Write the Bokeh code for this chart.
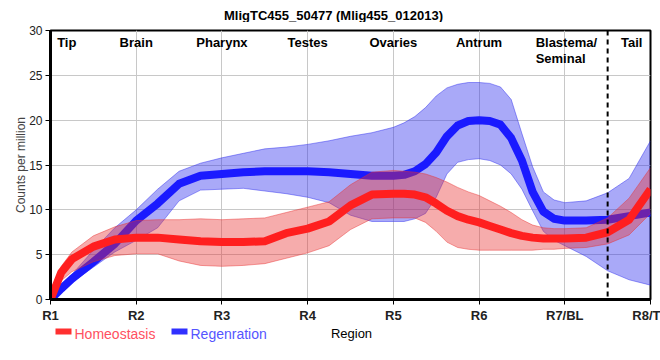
from bokeh.plotting import figure
from bokeh.layouts import column
from bokeh.models import FixedTicker, Label, Span, ColumnDataSource
from bokeh.core.properties import value
from bokeh.embed import file_html
from bokeh.resources import INLINE

# ---- data ----
xs = [1, 1.125, 1.25, 1.5, 1.75, 2, 2.25, 2.5, 2.75, 3, 3.25, 3.5, 3.75, 4, 4.25, 4.5, 4.75,
      5, 5.125, 5.25, 5.375, 5.5, 5.625, 5.75, 5.875, 6, 6.125, 6.25, 6.375, 6.5, 6.625, 6.75, 6.875, 7,
      7.25, 7.5, 7.75, 8]

homeo_mean = [0, 3.0, 4.5, 5.9, 6.7, 6.9, 6.9, 6.7, 6.5, 6.4, 6.4, 6.5, 7.4, 7.9, 8.7, 10.5, 11.7,
              11.8, 11.8, 11.7, 11.4, 10.7, 9.9, 9.3, 8.9, 8.6, 8.2, 7.8, 7.4, 7.1, 6.9, 6.8, 6.8, 6.8,
              6.9, 7.5, 8.9, 12.3]
homeo_upper = [0, 3.7, 5.3, 7.1, 8.1, 8.8, 8.9, 8.9, 9.0, 8.9, 9.0, 9.1, 9.7, 10.3, 10.9, 12.8, 14.2,
               14.4, 14.3, 14.2, 14.0, 13.6, 13.1, 12.5, 12.0, 11.6, 11.0, 10.4, 9.7, 8.9, 8.3, 8.0, 7.9, 7.9,
               8.0, 9.1, 11.3, 14.7]
homeo_lower = [0, 2.1, 3.1, 4.2, 4.9, 5.1, 5.1, 4.3, 3.8, 3.7, 3.8, 4.0, 4.6, 5.2, 6.0, 7.8, 9.0,
               9.1, 9.1, 9.1, 8.6, 7.6, 6.4, 5.8, 5.6, 5.5, 5.5, 5.5, 5.5, 5.5, 5.5, 5.6, 5.6, 5.7,
               5.8, 6.2, 7.2, 9.6]

regen_mean = [0, 1.2, 2.3, 4.2, 6.2, 8.8, 10.7, 12.9, 13.8, 14.0, 14.2, 14.3, 14.3, 14.3, 14.2, 14.0, 13.8,
              13.8, 13.9, 14.3, 15.1, 16.4, 18.2, 19.4, 19.9, 20.0, 19.9, 19.5, 18.0, 15.5, 12.0, 9.8, 9.0, 8.8,
              8.8, 8.9, 9.3, 9.7]
regen_upper = [0, 1.5, 2.8, 5.5, 8.0, 10.0, 12.3, 14.3, 15.2, 15.8, 16.3, 16.8, 17.0, 17.3, 17.7, 18.2, 18.6,
               19.2, 19.7, 20.4, 21.4, 22.7, 23.6, 24.0, 24.2, 24.2, 24.1, 23.7, 22.3, 18.5, 14.8, 12.0, 11.1, 10.8,
               11.0, 11.9, 13.5, 17.7]
regen_lower = [0, 0.9, 1.9, 3.6, 5.3, 6.6, 8.0, 11.0, 12.2, 12.3, 12.4, 12.1, 11.8, 11.4, 10.8, 9.4, 8.7,
               8.7, 8.7, 9.0, 9.6, 11.4, 14.0, 15.3, 15.6, 15.7, 15.5, 15.0, 14.0, 12.3, 9.9, 7.6, 6.6, 6.0,
               4.8, 3.2, 2.2, 1.6]

tick_pos = [1, 2, 3, 4, 5, 6, 7, 8]
tick_labels = ["R1", "R2", "R3", "R4", "R5", "R6", "R7/BL", "R8/T"]

region_names = ["Tip", "Brain", "Pharynx", "Testes", "Ovaries", "Antrum", "Tail"]
region_x = [1.19, 2, 3, 4, 5, 6, 7.78]
blastema_text = "Blastema/\nSeminal"
blastema_x = 6.66
divider_x = 7.5

title_text = "MligTC455_50477 (Mlig455_012013)"
series_names = ["Homeostasis", "Regenration"]
x_title = "Region"
y_title = "Counts per million"

FONT = "Liberation Sans"
W = 660
BL, BR = 50, 10   # left / right borders shared by all strips


def strip(h):
    f = figure(width=W, height=h, x_range=(BL, W - BR), y_range=(0, h),
               output_backend="svg", toolbar_location=None,
               x_axis_type=None, y_axis_type=None,
               min_border_left=BL, min_border_right=BR,
               min_border_top=0, min_border_bottom=0)
    f.outline_line_color = None
    f.grid.grid_line_color = None
    return f


# ---------------- title strip ----------------
tp = strip(22)
tp.text(x=[333], y=[7], text=[title_text], text_align="center",
        text_baseline="middle", text_font=value(FONT), text_font_style="bold",
        text_font_size="13px", text_color="black")

# ---------------- main plot ----------------
p = figure(width=W, height=303, x_range=(1, 8), y_range=(0, 30),
           output_backend="svg", toolbar_location=None,
           min_border_left=BL, min_border_right=BR, min_border_top=8,
           min_border_bottom=23)

p.xaxis.ticker = FixedTicker(ticks=tick_pos)
p.xaxis.major_label_overrides = {t: l for t, l in zip(tick_pos, tick_labels)}
p.yaxis.ticker = FixedTicker(ticks=[0, 5, 10, 15, 20, 25, 30])
for ax in (p.xaxis, p.yaxis):
    ax.axis_line_width = 3
    ax.axis_line_color = "black"
    ax.major_tick_in = 0
    ax.major_tick_out = 5
    ax.major_tick_line_color = "black"
    ax.minor_tick_line_color = None
    ax.major_label_text_font = FONT
    ax.major_label_text_color = "#222222"
p.xaxis.major_label_text_font_style = "bold"
p.xaxis.major_label_text_font_size = "13px"
p.xaxis.major_label_standoff = 3
p.yaxis.major_label_text_font_size = "12px"
p.yaxis.major_label_standoff = 3
p.yaxis.axis_label = y_title
p.yaxis.axis_label_text_font = FONT
p.yaxis.axis_label_text_font_style = "normal"
p.yaxis.axis_label_text_font_size = "12px"
p.yaxis.axis_label_standoff = -2

p.xgrid.grid_line_color = "#c8c8c8"
p.ygrid.grid_line_color = "#c8c8c8"
p.outline_line_color = "black"
p.outline_line_width = 2
p.outline_line_alpha = 1

src = ColumnDataSource(dict(x=xs, hm=homeo_mean, hu=homeo_upper, hl=homeo_lower,
                            rm=regen_mean, ru=regen_upper, rl=regen_lower))

# regeneration band + line
p.varea(x="x", y1="rl", y2="ru", source=src, fill_color="#2828ee", fill_alpha=0.4)
p.line("x", "ru", source=src, line_color="#2828ee", line_alpha=0.45, line_width=1)
p.line("x", "rl", source=src, line_color="#2828ee", line_alpha=0.45, line_width=1)
p.line("x", "rm", source=src, line_color="#1a1aff", line_width=8, line_join="round")

# homeostasis band + line
p.varea(x="x", y1="hl", y2="hu", source=src, fill_color="#e83030", fill_alpha=0.4)
p.line("x", "hu", source=src, line_color="#e83030", line_alpha=0.45, line_width=1)
p.line("x", "hl", source=src, line_color="#e83030", line_alpha=0.45, line_width=1)
p.line("x", "hm", source=src, line_color="#ff1f1f", line_width=8, line_join="round")

p.add_layout(Span(location=divider_x, dimension="height", line_color="black",
                  line_width=2, line_dash="5 4"))

for name, x in zip(region_names, region_x):
    p.add_layout(Label(x=x, y=30, y_offset=-4, text=name, text_align="center",
                       text_baseline="top", text_font=FONT, text_font_style="bold",
                       text_font_size="13px", text_color="black"))
p.add_layout(Label(x=blastema_x, y=30, y_offset=-4, text=blastema_text,
                   text_align="left", text_baseline="top", text_font=FONT,
                   text_font_style="bold", text_font_size="13px", text_color="black",
                   text_line_height=1.1))

# ---------------- legend / x-title strip ----------------
lp = strip(30)
lp.rect(x=[63, 179], y=[24, 24], width=16, height=6,
        fill_color=["#ff3030", "#3030ff"], line_color=None)
lp.text(x=[74, 190], y=[22, 22], text=series_names, text_align="left",
        text_baseline="middle", text_font=value(FONT), text_font_size="14px",
        text_color=["#ff5060", "#5555ff"])
lp.text(x=[351], y=[22], text=[x_title], text_align="center",
        text_baseline="middle", text_font=value(FONT), text_font_size="13px",
        text_color="black")

layout = column(tp, p, lp, spacing=0)
open("out.html", "w").write(file_html(layout, INLINE))
